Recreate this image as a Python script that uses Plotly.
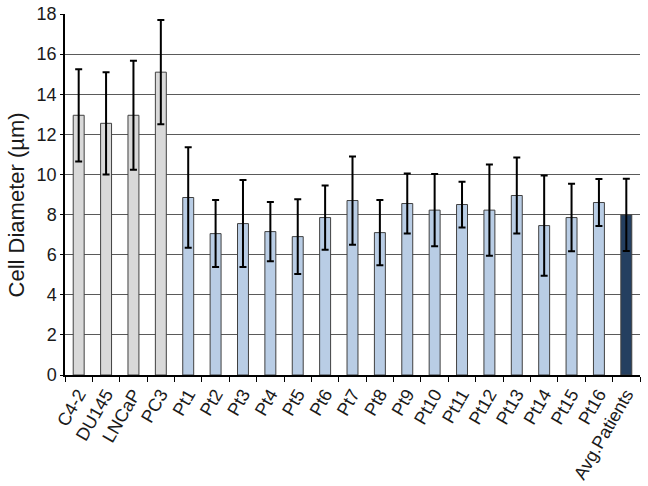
import plotly.graph_objects as go

categories = ["C4-2", "DU145", "LNCaP", "PC3", "Pt1", "Pt2", "Pt3", "Pt4", "Pt5", "Pt6", "Pt7",
              "Pt8", "Pt9", "Pt10", "Pt11", "Pt12", "Pt13", "Pt14", "Pt15", "Pt16", "Avg.Patients"]
diameters = [12.95, 12.55, 12.95, 15.1, 8.85, 7.05, 7.55, 7.15, 6.9, 7.85, 8.7,
             7.1, 8.55, 8.22, 8.5, 8.22, 8.95, 7.45, 7.85, 8.6, 7.98]
errors = [2.3, 2.55, 2.72, 2.6, 2.5, 1.67, 2.17, 1.48, 1.86, 1.6, 2.2,
          1.63, 1.5, 1.8, 1.14, 2.28, 1.9, 2.5, 1.68, 1.17, 1.8]
colors = ["#d9d9d9"] * 4 + ["#b9cde5"] * 16 + ["#243f60"]
y_title = "Cell Diameter (µm)"

fig = go.Figure(go.Bar(
    x=categories, y=diameters,
    marker=dict(color=colors, line=dict(color="#404040", width=1)),
    width=0.4,
    error_y=dict(type="data", array=errors, visible=True, color="black", thickness=2, width=3.5),
))

fig.update_layout(
    width=648, height=486, autosize=False,
    margin=dict(l=65, r=8, t=14, b=111),
    paper_bgcolor="white", plot_bgcolor="white",
    font=dict(family="Liberation Sans, Arial, sans-serif", color="#1a1a1a"),
    showlegend=False,
)
fig.add_annotation(
    text=y_title, textangle=-90, showarrow=False,
    xref="paper", yref="paper", x=-0.085, y=0.47,
    xanchor="center", yanchor="middle",
    font=dict(size=22, color="#1a1a1a"),
)
fig.update_yaxes(
    range=[0, 18], dtick=2, showgrid=True, gridcolor="#5a5a5a", gridwidth=1,
    showline=True, linecolor="black", linewidth=1.5,
    ticks="outside", ticklen=3, tickcolor="black",
    tickfont=dict(size=18), zeroline=False, automargin=False,
)
fig.update_xaxes(
    range=[-0.5, 20.5], showline=True, linecolor="black", linewidth=1.5,
    ticks="outside", ticklen=5, tickcolor="black", tickson="boundaries",
    tickangle=-60, tickfont=dict(size=18), showgrid=False, automargin=False,
)

fig.write_html(
    "out.html",
    config={"displayModeBar": False},
    post_script="document.body.style.margin='0';document.body.style.overflow='hidden';",
)
